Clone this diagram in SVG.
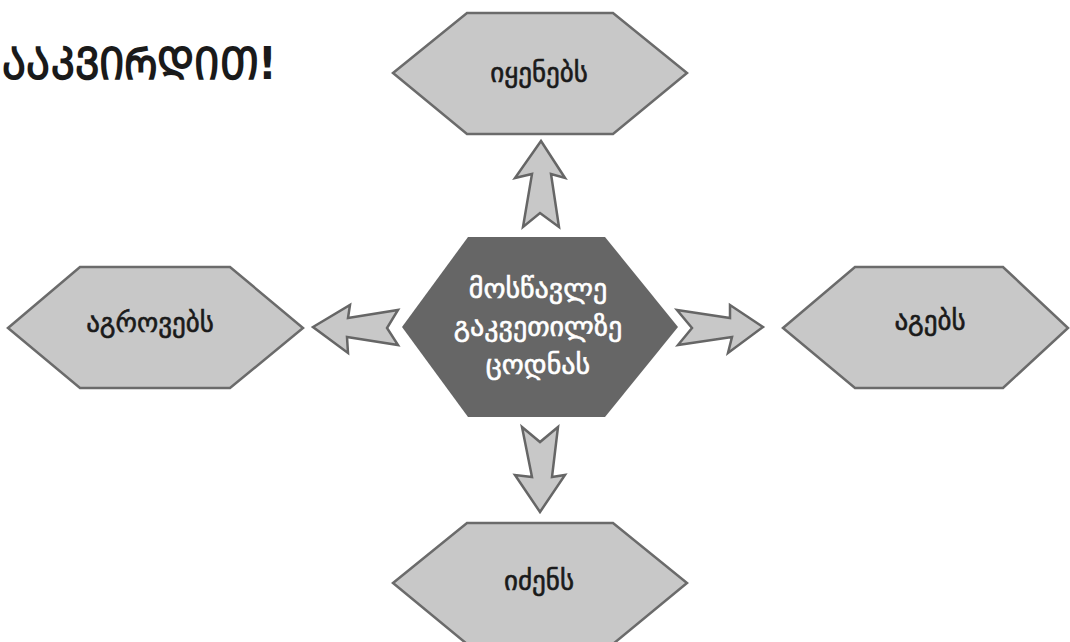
<svg xmlns="http://www.w3.org/2000/svg" width="1070" height="642" viewBox="0 0 1070 642">
<defs>
<style>
.hex{fill:#c8c8c8;stroke:#6b6b6b;stroke-width:2.5;stroke-linejoin:miter}
.arr{fill:#c8c8c8;stroke:#666666;stroke-width:2.5;stroke-linejoin:miter}
.lbl{font-family:"DejaVu Sans","Noto Sans",sans-serif;font-size:27px;fill:#1a1a1a;stroke:#1a1a1a;stroke-width:0.6;text-anchor:middle}
.ctr{font-family:"DejaVu Sans","Noto Sans",sans-serif;font-size:28px;fill:#ffffff;stroke:#ffffff;stroke-width:0.6;text-anchor:middle}
.title{font-family:"DejaVu Sans","Noto Sans",sans-serif;font-size:40px;font-weight:bold;fill:#1a1a1a}
</style>
</defs>
<rect width="1070" height="642" fill="#ffffff"/>
<text class="title" x="2" y="0" transform="translate(0,79) scale(1,1.12)">ᲐᲐᲙᲕᲘᲠᲓᲘᲗ!</text>
<g id="connectors">
<polygon class="arr" points="541,141 565,178 551,174 559,227 540,213 523,227 532,174 515,178"/>
<polygon class="arr" points="540,512 565,475 552,477 558,427 540,442 522,427 532,477 515,475"/>
<polygon class="arr" points="313,327 350,305 348,318 398,310 387,328 398,345 347,337 348,353"/>
<polygon class="arr" points="763,327 730,305 730,318 677,310 692,328 678,345 732,337 728,353"/>
</g>
<g id="node-center">
<polygon points="402,327 468,237 605,237 678,327 605,417 468,417" fill="#666666"/>
<text class="ctr" x="538" y="298">მოსწავლე</text>
<text class="ctr" x="538" y="336">გაკვეთილზე</text>
<text class="ctr" x="538" y="374">ცოდნას</text>
</g>
<g id="node-top">
<polygon class="hex" points="393,73 467,13 613,13 687,73 613,134 467,134"/>
<text class="lbl" x="539" y="82">იყენებს</text>
</g>
<g id="node-left">
<polygon class="hex" points="8,328 80,267 230,267 303,328 230,388 80,388"/>
<text class="lbl" x="150" y="332">აგროვებს</text>
</g>
<g id="node-right">
<polygon class="hex" points="783,328 855,267 1003,267 1068,328 1003,388 855,388"/>
<text class="lbl" x="930" y="330">აგებს</text>
</g>
<g id="node-bottom">
<polygon class="hex" points="393,583 467,523 613,523 687,583 613,644 467,644"/>
<text class="lbl" x="539" y="590">იძენს</text>
</g>
</svg>
